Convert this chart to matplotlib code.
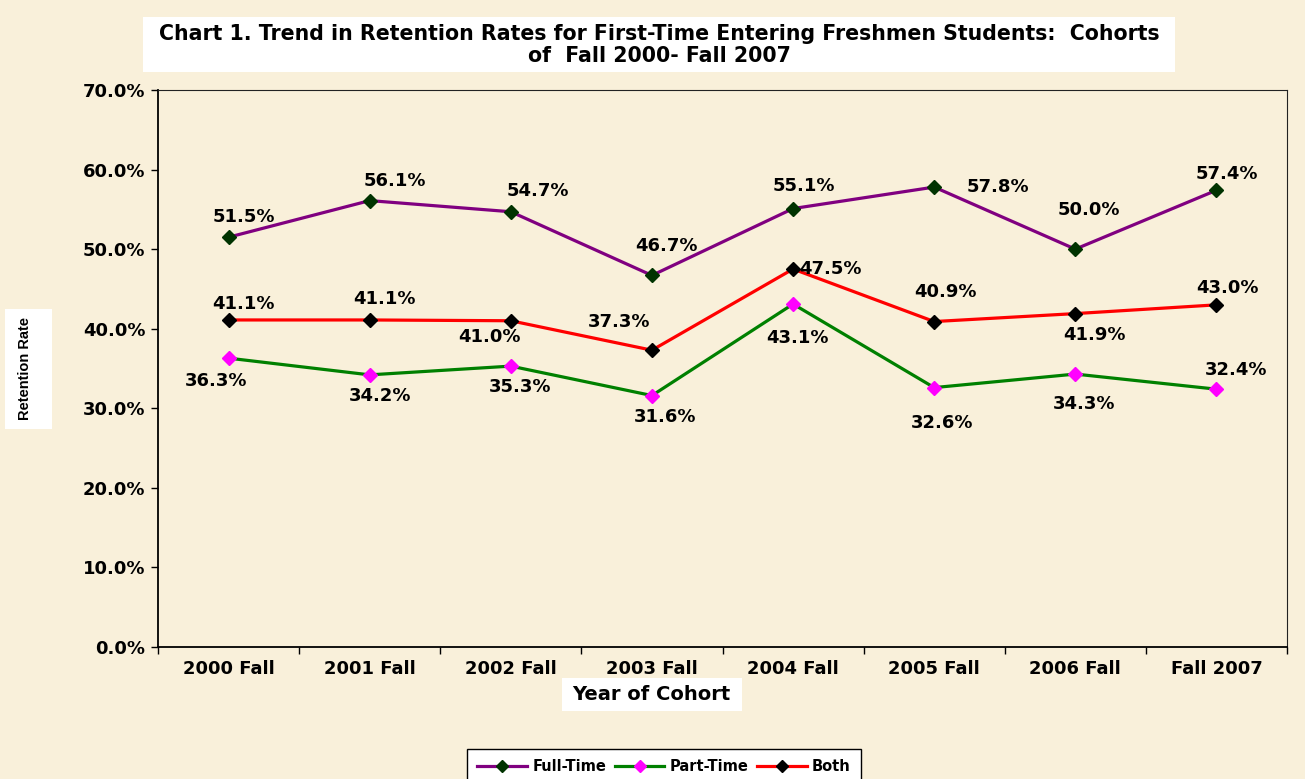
import matplotlib
matplotlib.use("Agg")
import matplotlib.pyplot as plt

categories = ["2000 Fall", "2001 Fall", "2002 Fall", "2003 Fall", "2004 Fall", "2005 Fall", "2006 Fall", "Fall 2007"]
full_time = [51.5, 56.1, 54.7, 46.7, 55.1, 57.8, 50.0, 57.4]
part_time = [36.3, 34.2, 35.3, 31.6, 43.1, 32.6, 34.3, 32.4]
both = [41.1, 41.1, 41.0, 37.3, 47.5, 40.9, 41.9, 43.0]
y_ticks = [0, 10, 20, 30, 40, 50, 60, 70]

# label offsets (pixels)
ft_off = [(15, 20), (25, 20), (27, 21), (14, 29), (11, 23), (64, 0), (14, 39), (10, 16)]
pt_off = [(-12, -23), (10, -21), (9, -21), (13, -21), (4, -34), (8, -35), (9, -30), (20, 19)]
bo_off = [(15, 16), (15, 21), (-21, -16), (-33, 28), (37, 0), (11, 30), (19, -21), (11, 17)]

base = "DejaVu Sans"
narrow = "Liberation Sans"

bg = "#F9F0DA"
fig = plt.figure(figsize=(13.05, 7.79), dpi=100, facecolor=bg)
ax = fig.add_axes([158/1305, 1-647/779, 1129/1305, 557/779])
ax.set_facecolor(bg)

x = list(range(len(categories)))
ax.plot(x, full_time, color="#800080", lw=2.3, marker="D", ms=7.5, mfc="#003300", mec="#003300", label="Full-Time", zorder=3)
ax.plot(x, part_time, color="#008000", lw=2.3, marker="D", ms=7.5, mfc="#FF00FF", mec="#FF00FF", label="Part-Time", zorder=3)
ax.plot(x, both, color="#FF0000", lw=2.3, marker="D", ms=7.5, mfc="#000000", mec="#000000", label="Both", zorder=3)

for series, offs in ((full_time, ft_off), (part_time, pt_off), (both, bo_off)):
    for i, (v, o) in enumerate(zip(series, offs)):
        ax.annotate(f"{v:.1f}%", (i, v), xytext=o, textcoords="offset pixels",
                    ha="center", va="center", fontsize=13, fontweight="bold",
                    family=base, color="black", zorder=4)

ax.set_xlim(-0.5, 7.5)
ax.set_ylim(0, 70)
ax.set_yticks(y_ticks)
ax.set_yticklabels([f"{t:.1f}%" for t in y_ticks], fontsize=13, fontweight="bold", family=base)
ax.set_xticks([i + 0.5 for i in range(-1, 8)])
ax.set_xticklabels([])
ax.set_xticks(x, minor=True)
ax.set_xticklabels(categories, minor=True, fontsize=13, fontweight="bold", family=base)
ax.tick_params(axis="x", which="minor", length=0, pad=9)
ax.tick_params(axis="x", which="major", length=5, direction="out", width=1)
ax.tick_params(axis="y", length=5, direction="out", width=1, pad=4)
for s in ("left", "bottom"):
    ax.spines[s].set_linewidth(1.3)
    ax.spines[s].set_color("black")
for s in ("top", "right"):
    ax.spines[s].set_linewidth(0.8)
    ax.spines[s].set_color("#222222")

# Title box + text
fig.patches.append(plt.Rectangle((143/1305, 1-72/779), 1032/1305, 55/779, transform=fig.transFigure,
                                 fc="white", ec="none", zorder=0))
fig.text(659/1305, 1-34/779, "Chart 1. Trend in Retention Rates for First-Time Entering Freshmen Students:  Cohorts",
         ha="center", va="center", fontsize=14.8, fontweight="bold", family=base)
fig.text(659/1305, 1-56/779, "of  Fall 2000- Fall 2007",
         ha="center", va="center", fontsize=14.8, fontweight="bold", family=base)

# Axis labels
fig.patches.append(plt.Rectangle((562/1305, 1-711/779), 180/1305, 33/779, transform=fig.transFigure,
                                 fc="white", ec="none", zorder=0))
fig.text(651/1305, 1-694/779, "Year of Cohort", ha="center", va="center", fontsize=14,
         fontweight="bold", family=base)
fig.patches.append(plt.Rectangle((5/1305, 1-429/779), 47/1305, 120/779, transform=fig.transFigure,
                                 fc="white", ec="none", zorder=0))
fig.text(25/1305, 1-369/779, "Retention Rate", ha="center", va="center", rotation=90,
         fontsize=10.5, family=narrow, fontweight="bold")

leg = fig.legend(loc="upper center", bbox_to_anchor=(664/1305, 1-749/779), ncol=3,
                 prop=dict(family=base, weight="bold", size=10.5), frameon=True,
                 fancybox=False, edgecolor="black", facecolor="white", framealpha=1,
                 handlelength=3.4, columnspacing=0.6, handletextpad=0.35, borderpad=0.7,
                 borderaxespad=0, markerscale=0.75)
leg.get_frame().set_linewidth(1)

fig.savefig("out.png", dpi=100, facecolor=bg)
